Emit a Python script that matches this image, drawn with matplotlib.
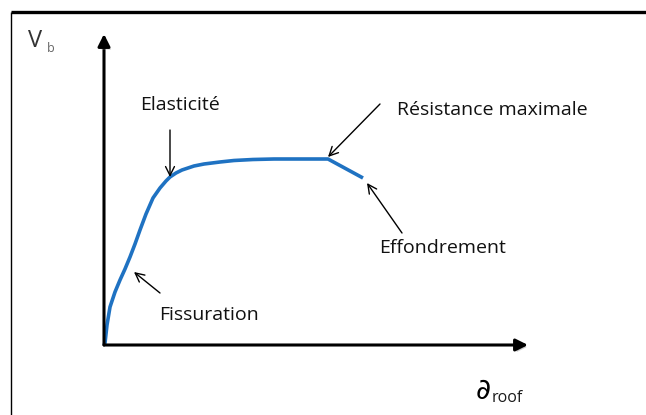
import matplotlib.pyplot as plt
import matplotlib.patheffects as pe

# pushover curve (x: roof displacement, y: base shear)
disp = [0, 1, 3, 6, 11, 16, 21, 26, 31, 36, 42, 49, 56, 62, 66, 72, 78, 90, 100, 116, 130, 149, 170, 183, 224, 259]
shear = [0, 2, 20, 38, 53, 65, 76, 88, 101, 115, 131, 147, 157, 164, 168, 172, 175, 179, 181, 183, 184.5, 185.5, 186, 186, 186, 167]

labels = ["Elasticité", "Résistance maximale", "Effondrement", "Fissuration"]
label_xy = [(36, 240), (293, 235), (275, 97), (55, 30)]
arrow_from = [(66, 215), (276, 241), (298, 112), (56, 52)]
arrow_to = [(66, 168), (224, 188), (263, 162), (30, 73)]

plt.rcParams['font.family'] = ['Open Sans', 'DejaVu Sans']

fig = plt.figure(figsize=(6.46, 4.15), dpi=100, facecolor='w')
ax = fig.add_axes([0, 0, 1, 1])
ax.set_xlim(-104, 542)
ax.set_ylim(-70, 345)
ax.axis('off')

# page frame
ax.plot([-93, 542], [333, 333], color='black', lw=2.4, solid_capstyle='butt')
ax.plot([-93, -93], [333, -70], color='black', lw=1.0, solid_capstyle='butt')

shadow = [pe.SimplePatchShadow(offset=(1.5, -1.5), shadow_rgbFace='0.6', alpha=0.5), pe.Normal()]
# axes with arrows
for tip in [(0, 311), (424, 0)]:
    ax.annotate('', xy=tip, xytext=(0, 0),
                arrowprops=dict(arrowstyle='-|>', lw=2.2, color='black',
                                mutation_scale=18, shrinkA=0, shrinkB=0,
                                path_effects=shadow))

ax.plot(disp, shear, color='#1F72C2', lw=2.6, solid_capstyle='butt', solid_joinstyle='round')

for lab, xy, a, b in zip(labels, label_xy, arrow_from, arrow_to):
    ax.text(xy[0], xy[1], lab, fontsize=14, color='#111111', ha='left', va='center')
    ax.annotate('', xy=b, xytext=a,
                arrowprops=dict(arrowstyle='->', lw=1.0, color='black',
                                mutation_scale=16, shrinkA=0, shrinkB=0))

ax.text(-76, 298, 'V', fontsize=17, color='#333333', ha='left', va='baseline')
ax.text(-57, 293, 'b', fontsize=9, color='#666666', ha='left', va='baseline')
ax.text(371, -54, r'$\partial$', fontsize=21, color='black', ha='left', va='baseline')
ax.text(388, -57, 'roof', fontsize=11.5, color='#1a1a1a', ha='left', va='baseline')

fig.savefig('out.png', dpi=100, facecolor='w')
